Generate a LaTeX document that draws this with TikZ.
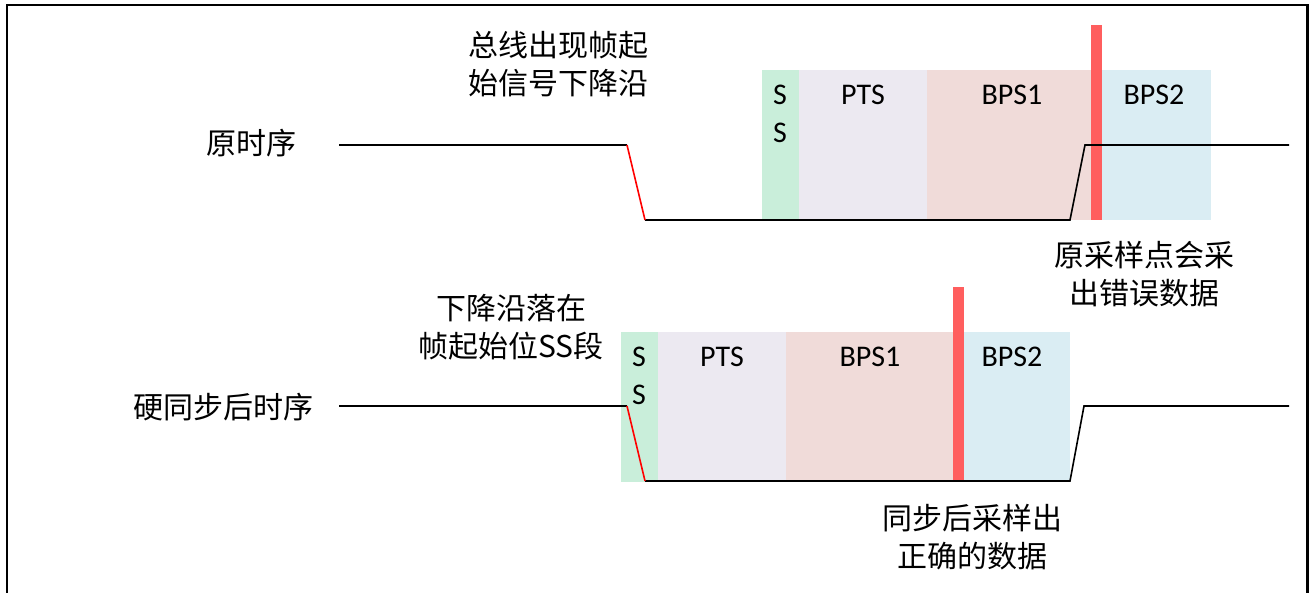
\documentclass[tikz,border=0pt]{standalone}
\usepackage{fontspec}
\setmainfont{Carlito}
\newfontfamily\cjk{Noto Sans CJK SC}
\definecolor{ssgreen}{RGB}{201,238,218}
\definecolor{ptsgray}{RGB}{236,233,241}
\definecolor{bpsone}{RGB}{240,219,217}
\definecolor{bpstwo}{RGB}{218,237,243}
\definecolor{barred}{RGB}{255,94,94}
\tikzset{
  seg/.style={anchor=north west, inner sep=0pt, outer sep=0pt, draw=none},
  segtext/.style={font=\fontsize{30}{36}\selectfont, inner sep=0pt, anchor=center},
  cjklabel/.style={font=\cjk\fontsize{30}{38}\selectfont, align=center, inner sep=0pt, anchor=center},
  sigline/.style={black, line width=1.6pt, line join=miter},
  edgeline/.style={red, line width=1.6pt},
  bar/.style={anchor=north west, inner sep=0pt, outer sep=0pt, fill=barred, draw=none},
  frameline/.style={black, line width=2.5pt}
}
\begin{document}
\begin{tikzpicture}[x=1pt,y=-1pt]
\useasboundingbox (0,0) rectangle (1309,593);
% frame
\coordinate (fbl) at (7,593);
\coordinate (ftl) at (7,5);
\coordinate (ftr) at (1307.5,5);
\coordinate (fbr) at (1307.5,593);
\draw[frameline] (fbl) -- (ftl) -- (ftr) -- (fbr);

% ---------- upper timing ----------
\node[seg, fill=ssgreen, minimum width=37pt, minimum height=150pt] (ssA) at (762,70) {};
\node[seg, fill=ptsgray, minimum width=128pt, minimum height=150pt] (ptsA) at (799,70) {};
\node[seg, fill=bpsone, minimum width=164pt, minimum height=150pt] (bpsoneA) at (927,70) {};
\node[seg, fill=bpstwo, minimum width=110pt, minimum height=150pt] (bpstwoA) at (1101,70) {};
\node[bar, minimum width=11pt, minimum height=195pt] (barA) at (1091,25) {};

\node[segtext] (sA1) at (780,95) {S};
\node[segtext] (sA2) at (780,133) {S};
\node[segtext] (ptsAt) at (863,95) {PTS};
\node[segtext] (bpsoneAt) at (1012,95) {BPS1};
\node[segtext] (bpstwoAt) at (1154,95) {BPS2};

\coordinate (a0) at (339,145);
\coordinate (a1) at (627,145);
\coordinate (a2) at (645,220);
\coordinate (a3) at (1070,220);
\coordinate (a4) at (1085,145);
\coordinate (a5) at (1289,145);
\draw[sigline] (a0) -- (a1);
\draw[sigline] (a2) -- (a3) -- (a4) -- (a5);
\draw[edgeline] (a1) -- (a2);

\node[cjklabel] (lblA) at (251,143) {原时序};
\node[cjklabel] (noteA) at (558,64) {总线出现帧起\\始信号下降沿};
\node[cjklabel] (errA) at (1144,274) {原采样点会采\\出错误数据};

% ---------- lower timing ----------
\node[seg, fill=ssgreen, minimum width=37pt, minimum height=150pt] (ssB) at (621,332) {};
\node[seg, fill=ptsgray, minimum width=128pt, minimum height=150pt] (ptsB) at (658,332) {};
\node[seg, fill=bpsone, minimum width=167pt, minimum height=150pt] (bpsoneB) at (786,332) {};
\node[seg, fill=bpstwo, minimum width=107pt, minimum height=150pt] (bpstwoB) at (963,332) {};
\node[bar, minimum width=10.5pt, minimum height=195pt] (barB) at (953,287) {};

\node[segtext] (sB1) at (639,357) {S};
\node[segtext] (sB2) at (639,395) {S};
\node[segtext] (ptsBt) at (722,357) {PTS};
\node[segtext] (bpsoneBt) at (870,357) {BPS1};
\node[segtext] (bpstwoBt) at (1012,357) {BPS2};

\coordinate (b0) at (339,406);
\coordinate (b1) at (627,406);
\coordinate (b2) at (645,481);
\coordinate (b3) at (1070,481);
\coordinate (b4) at (1084,406);
\coordinate (b5) at (1289,406);
\draw[sigline] (b0) -- (b1);
\draw[sigline] (b2) -- (b3) -- (b4) -- (b5);
\draw[edgeline] (b1) -- (b2);

\node[cjklabel] (lblB) at (223,407) {硬同步后时序};
\node[cjklabel] (noteB) at (511,327) {下降沿落在\\帧起始位SS段};
\node[cjklabel] (okB) at (972,537) {同步后采样出\\正确的数据};
\end{tikzpicture}
\end{document}
